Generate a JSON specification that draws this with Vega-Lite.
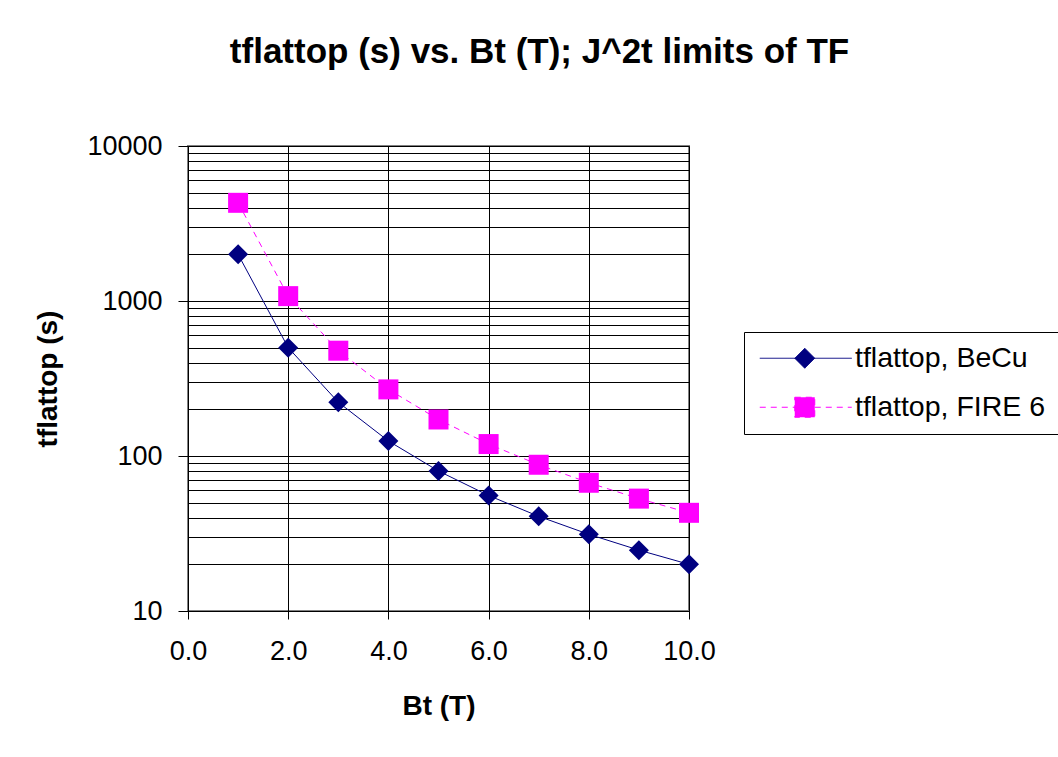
{
  "$schema": "https://vega.github.io/schema/vega-lite/v6.json",
  "autosize": {"type": "none"},
  "width": 501,
  "height": 465,
  "padding": {"left": 188, "top": 146, "right": 369, "bottom": 146},
  "background": "white",
  "title": {
    "text": "tflattop (s) vs. Bt (T); J^2t limits of TF",
    "font": "Liberation Sans",
    "fontSize": 35,
    "fontWeight": "bold",
    "color": "#000000",
    "anchor": "middle",
    "dx": 101,
    "offset": 62
  },
  "data": {
    "values": [
      {"Bt": 1, "t": 2000, "series": "tflattop, BeCu"},
      {"Bt": 2, "t": 500, "series": "tflattop, BeCu"},
      {"Bt": 3, "t": 222.2, "series": "tflattop, BeCu"},
      {"Bt": 4, "t": 125, "series": "tflattop, BeCu"},
      {"Bt": 5, "t": 80, "series": "tflattop, BeCu"},
      {"Bt": 6, "t": 55.6, "series": "tflattop, BeCu"},
      {"Bt": 7, "t": 40.8, "series": "tflattop, BeCu"},
      {"Bt": 8, "t": 31.25, "series": "tflattop, BeCu"},
      {"Bt": 9, "t": 24.7, "series": "tflattop, BeCu"},
      {"Bt": 10, "t": 20, "series": "tflattop, BeCu"},
      {"Bt": 1, "t": 4300, "series": "tflattop, FIRE 6"},
      {"Bt": 2, "t": 1075, "series": "tflattop, FIRE 6"},
      {"Bt": 3, "t": 478, "series": "tflattop, FIRE 6"},
      {"Bt": 4, "t": 269, "series": "tflattop, FIRE 6"},
      {"Bt": 5, "t": 172, "series": "tflattop, FIRE 6"},
      {"Bt": 6, "t": 119.4, "series": "tflattop, FIRE 6"},
      {"Bt": 7, "t": 87.8, "series": "tflattop, FIRE 6"},
      {"Bt": 8, "t": 67.2, "series": "tflattop, FIRE 6"},
      {"Bt": 9, "t": 53.1, "series": "tflattop, FIRE 6"},
      {"Bt": 10, "t": 43, "series": "tflattop, FIRE 6"}
    ]
  },
  "encoding": {
    "x": {
      "field": "Bt",
      "type": "quantitative",
      "scale": {"domain": [0, 10], "nice": false, "zero": false},
      "axis": {
        "title": "Bt (T)",
        "values": [0, 2, 4, 6, 8, 10],
        "format": ".1f",
        "labelFlush": false,
        "grid": true,
        "gridColor": "#000000",
        "gridWidth": 1,
        "gridOpacity": 1,
        "domainColor": "#000000",
        "domainWidth": 1,
        "tickColor": "#000000",
        "tickSize": 8,
        "labelPadding": 19,
        "labelFont": "Liberation Sans",
        "labelFontSize": 27,
        "labelColor": "#000000",
        "titleFont": "Liberation Sans",
        "titleFontSize": 28,
        "titleFontWeight": "bold",
        "titleColor": "#000000",
        "titlePadding": 28
      }
    },
    "y": {
      "field": "t",
      "type": "quantitative",
      "scale": {"type": "log", "domain": [10, 10000], "nice": false},
      "axis": {
        "title": "tflattop (s)",
        "values": [10, 20, 30, 40, 50, 60, 70, 80, 90, 100, 200, 300, 400, 500, 600, 700, 800, 900, 1000, 2000, 3000, 4000, 5000, 6000, 7000, 8000, 9000, 10000],
        "labelExpr": "indexof([10,100,1000,10000], datum.value) >= 0 ? format(datum.value, 'd') : ''",
        "labelOverlap": false,
        "grid": true,
        "gridColor": "#000000",
        "gridWidth": 1,
        "gridOpacity": 1,
        "domainColor": "#000000",
        "domainWidth": 1,
        "tickColor": "#000000",
        "tickSize": 10,
        "tickOpacity": {"condition": {"test": "indexof([10,100,1000,10000], datum.value) >= 0", "value": 1}, "value": 0},
        "labelPadding": 16,
        "labelFont": "Liberation Sans",
        "labelFontSize": 27,
        "labelColor": "#000000",
        "titleFont": "Liberation Sans",
        "titleFontSize": 28,
        "titleFontWeight": "bold",
        "titleColor": "#000000",
        "titlePadding": 24
      }
    },
    "color": {
      "field": "series",
      "type": "nominal",
      "scale": {"domain": ["tflattop, BeCu", "tflattop, FIRE 6"], "range": ["#000080", "#FF00FF"]},
      "legend": {
        "title": null,
        "orient": "none",
        "legendX": 556,
        "legendY": 186,
        "padding": 12,
        "strokeColor": "#000000",
        "fillColor": "#FFFFFF",
        "rowPadding": 20,
        "symbolSize": 400,
        "symbolStrokeWidth": 1,
        "symbolOpacity": 1,
        "symbolType": {"expr": "datum.value === 'tflattop, BeCu' ? 'M-4.5,0H4.7M0,-1L1,0L0,1L-1,0Z' : 'M-4.5,0H4.7M-1,-1H1V1H-1Z'"},
        "symbolDash": {"expr": "datum.value === 'tflattop, BeCu' ? [1, 0] : [6, 5]"},
        "symbolFillColor": {"expr": "datum.value === 'tflattop, BeCu' ? '#000080' : '#FF00FF'"},
        "symbolStrokeColor": {"expr": "datum.value === 'tflattop, BeCu' ? '#000080' : '#FF00FF'"},
        "symbolOffset": 34.5,
        "labelOffset": 36,
        "labelFont": "Liberation Sans",
        "labelFontSize": 28.5,
        "labelColor": "#000000",
        "labelLimit": 400
      }
    }
  },
  "layer": [
    {
      "transform": [{"filter": "datum.series === 'tflattop, BeCu'"}],
      "mark": {"type": "line", "strokeWidth": 1}
    },
    {
      "transform": [{"filter": "datum.series === 'tflattop, FIRE 6'"}],
      "mark": {"type": "line", "strokeWidth": 1, "strokeDash": [6, 5]}
    },
    {
      "transform": [{"filter": "datum.series === 'tflattop, BeCu'"}],
      "mark": {"type": "point", "shape": "diamond", "filled": true, "size": 400, "opacity": 1, "strokeWidth": 0}
    },
    {
      "transform": [{"filter": "datum.series === 'tflattop, FIRE 6'"}],
      "mark": {"type": "point", "shape": "square", "filled": true, "size": 400, "opacity": 1, "strokeWidth": 0}
    }
  ],
  "config": {
    "view": {"stroke": "#808080", "strokeWidth": 2}
  }
}
